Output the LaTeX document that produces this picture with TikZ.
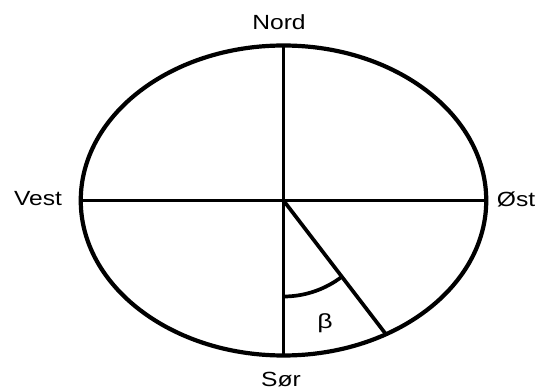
\documentclass[tikz,border=0pt]{standalone}
\usepackage{fontspec}
\setmainfont{Liberation Sans}
\begin{document}
\begin{tikzpicture}[x=1pt,y=-1pt,
  lbl/.style={font=\fontsize{20.5}{24}\selectfont, inner sep=0pt, anchor=base},
  thick line/.style={line width=3.7pt},
  outline/.style={line width=4.2pt}]
\useasboundingbox (0,0) rectangle (541,390);
\coordinate (C) at (283.5,200.5);
\coordinate (N) at (283.5,45);
\coordinate (S) at (283.5,355);
\coordinate (W) at (81,200.5);
\coordinate (E) at (486.5,200.5);
\coordinate (D) at (386.5,335);
\coordinate (A) at (283.5,296.5);
\draw[outline] (C) ellipse [x radius=202.75pt, y radius=155pt];
\draw[thick line] (N) -- (S);
\draw[thick line] (W) -- (E);
\draw[thick line] (C) -- (D);
\draw[thick line] (A) arc[start angle=-90, end angle=-52.5, radius=96pt];
\node[lbl] (nord) at (279,29.5) {\scalebox{1.2}[1]{Nord}};
\node[lbl] (vest) at (38,206) {\scalebox{1.2}[1]{Vest}};
\node[lbl] (ost) at (516,207) {\scalebox{1.2}[1]{Øst}};
\node[lbl] (sor) at (281,386.5) {\scalebox{1.2}[1]{Sør}};
\node[lbl] (beta) at (325,328) {\scalebox{1.3}[1]{β}};
\end{tikzpicture}
\end{document}
